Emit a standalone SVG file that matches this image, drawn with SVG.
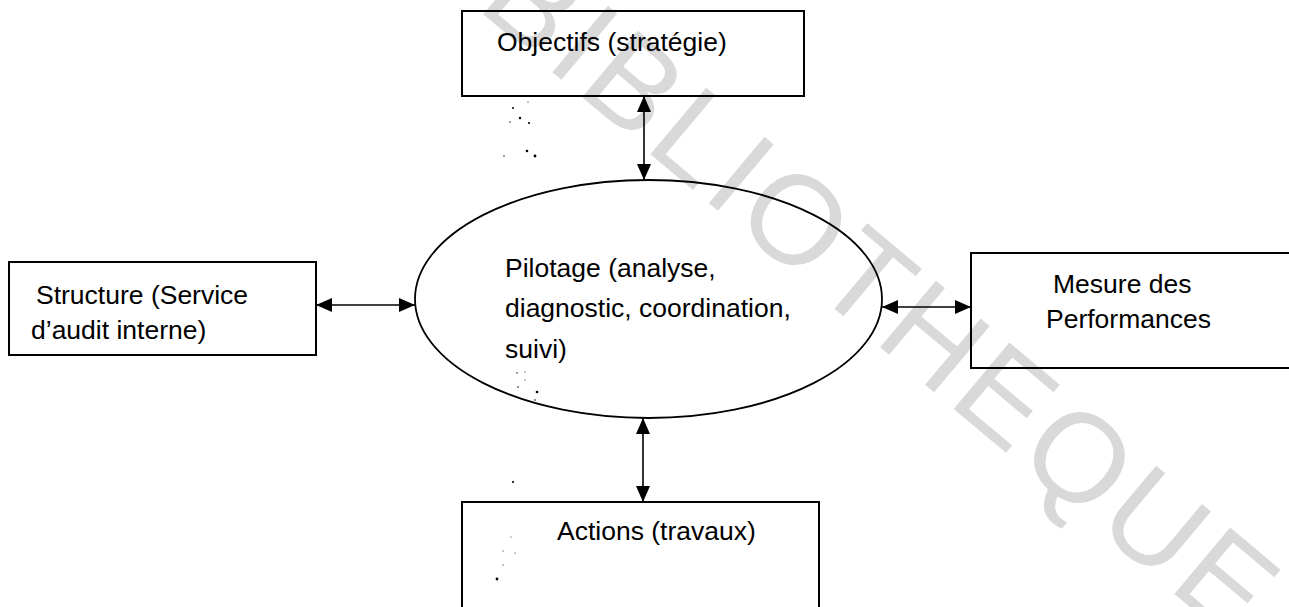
<svg xmlns="http://www.w3.org/2000/svg" width="1289" height="607" viewBox="0 0 1289 607">
  <style>
    .box { fill: none; stroke: #000; stroke-width: 2; }
    .oval { fill: none; stroke: #000; stroke-width: 1.8; }
    .lbl { font-family: "Liberation Sans", Arial, sans-serif; font-size: 26.5px; fill: #000; }
    .link { stroke: #000; stroke-width: 1.6; fill: none; marker-start: url(#head); marker-end: url(#head); }
    .wm { font-family: "Liberation Sans", Arial, sans-serif; font-size: 126px; letter-spacing: 5px; fill: #d9d9d9; }
    .speck { fill: #000; }
  </style>
  <defs>
    <marker id="head" viewBox="0 0 16 14" refX="16" refY="7" markerWidth="16" markerHeight="14" markerUnits="userSpaceOnUse" orient="auto-start-reverse">
      <path d="M0,0 L16,7 L0,14 Z" fill="#000"/>
    </marker>
  </defs>

  <rect width="1289" height="607" fill="#fff"/>

  <!-- diagonal watermark -->
  <text class="wm" transform="translate(855,326) rotate(40)" text-anchor="middle">BIBLIOTHEQUE</text>

  <!-- connectors -->
  <g id="connectors">
    <line class="link" x1="644" y1="96" x2="644" y2="180"/>
    <line class="link" x1="643" y1="418" x2="643" y2="502"/>
    <line class="link" x1="316" y1="305" x2="415" y2="305"/>
    <line class="link" x1="882" y1="307" x2="971" y2="307"/>
  </g>

  <g id="objectifs">
    <rect class="box" x="462" y="11" width="342" height="85"/>
    <text class="lbl" x="497" y="51">Objectifs (stratégie)</text>
  </g>

  <g id="pilotage">
    <ellipse class="oval" cx="648.5" cy="299" rx="233.5" ry="119"/>
    <text class="lbl" x="505" y="277">Pilotage (analyse,</text>
    <text class="lbl" x="505" y="317">diagnostic, coordination,</text>
    <text class="lbl" x="505" y="358">suivi)</text>
  </g>

  <g id="structure">
    <rect class="box" x="9" y="262" width="307" height="93"/>
    <text class="lbl" x="36" y="304">Structure (Service</text>
    <text class="lbl" x="31" y="339">d’audit interne)</text>
  </g>

  <g id="mesure">
    <rect class="box" x="971" y="253" width="340" height="115"/>
    <text class="lbl" x="1053" y="293">Mesure des</text>
    <text class="lbl" x="1046" y="328">Performances</text>
  </g>

  <g id="actions">
    <rect class="box" x="462" y="502" width="357" height="130"/>
    <text class="lbl" x="557" y="540">Actions (travaux)</text>
  </g>

  <!-- scan specks -->
  <g id="specks" class="speck">
    <circle cx="513" cy="108" r="1"/>
    <circle cx="520" cy="118" r="1.2"/>
    <circle cx="529" cy="123" r="1.1"/>
    <circle cx="510" cy="122" r="0.7"/>
    <circle cx="527" cy="151" r="1.3"/>
    <circle cx="535" cy="156" r="1.4"/>
    <circle cx="504" cy="156" r="0.7"/>
    <circle cx="528" cy="102" r="0.6"/>
    <circle cx="517" cy="373" r="0.7"/>
    <circle cx="525" cy="372" r="0.6"/>
    <circle cx="518" cy="387" r="0.8"/>
    <circle cx="525" cy="380" r="0.6"/>
    <circle cx="537" cy="392" r="1.3"/>
    <circle cx="535" cy="400" r="0.8"/>
    <circle cx="513" cy="482" r="1.1"/>
    <circle cx="511" cy="537" r="0.5"/>
    <circle cx="503" cy="551" r="0.6"/>
    <circle cx="515" cy="553" r="0.6"/>
    <circle cx="503" cy="565" r="0.6"/>
    <circle cx="497" cy="579" r="1.4"/>
  </g>
</svg>
